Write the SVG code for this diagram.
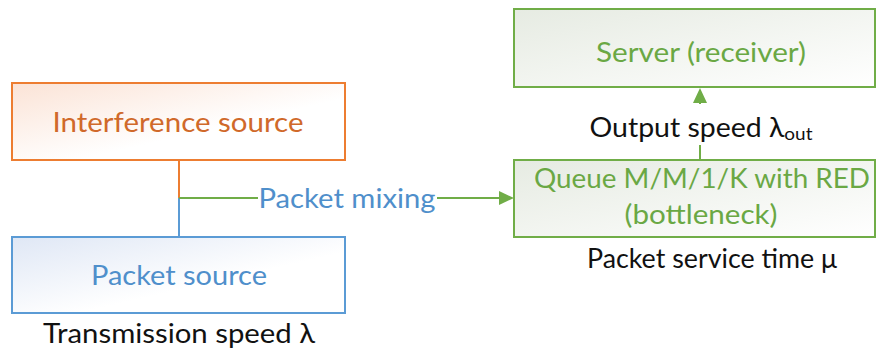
<svg xmlns="http://www.w3.org/2000/svg" width="876" height="349" viewBox="0 0 876 349">
<defs>
<linearGradient id="gO" x1="0" y1="0" x2="1" y2="1"><stop offset="0" stop-color="#fbe3d6"/><stop offset="0.6" stop-color="#ffffff"/></linearGradient>
<linearGradient id="gB" x1="0" y1="0" x2="1" y2="1"><stop offset="0" stop-color="#dfe7f5"/><stop offset="0.6" stop-color="#ffffff"/></linearGradient>
<linearGradient id="gG" x1="0" y1="0" x2="1" y2="1"><stop offset="0" stop-color="#e6ebe2"/><stop offset="1" stop-color="#ffffff"/></linearGradient>
<style>
text{font-family:Lato,"Open Sans",sans-serif;font-size:27px;text-anchor:middle}
.o{fill:#d0692a}.b{fill:#4f8fcb}.g{fill:#6aa844}.k{fill:#111}
.box{stroke-width:2}
.ah{fill:#70ad47}
</style>
</defs>
<g id="connectors" fill="none" stroke-width="2">
<line x1="179" y1="160" x2="179" y2="198" stroke="#ed7d31"/>
<line x1="179" y1="198" x2="179" y2="237" stroke="#5b9bd5"/>
<line x1="179" y1="198" x2="258" y2="198" stroke="#70ad47"/>
<line x1="437" y1="198" x2="500" y2="198" stroke="#70ad47"/>
<path class="ah" d="M499,191 L514,198 L499,205 z"/>
<line x1="700" y1="160" x2="700" y2="145" stroke="#70ad47"/>
<line x1="700" y1="104" x2="700" y2="96" stroke="#70ad47"/>
<path class="ah" d="M693,103 L700,88 L707,103 z"/>
<text class="b" x="347" y="208" textLength="177" lengthAdjust="spacingAndGlyphs">Packet mixing</text>
<text class="k" x="701" y="137" textLength="223" lengthAdjust="spacingAndGlyphs">Output speed λ<tspan font-size="18" dy="3">out</tspan></text>
</g>
<g id="interference">
<rect class="box" x="12" y="83" width="333" height="77" fill="url(#gO)" stroke="#ed7d31"/>
<text class="o" x="178" y="132" textLength="251" lengthAdjust="spacingAndGlyphs">Interference source</text>
</g>
<g id="packet-source">
<rect class="box" x="12" y="237" width="333" height="76" fill="url(#gB)" stroke="#5b9bd5"/>
<text class="b" x="179" y="285" textLength="176" lengthAdjust="spacingAndGlyphs">Packet source</text>
<text class="k" x="179" y="343" textLength="272" lengthAdjust="spacingAndGlyphs">Transmission speed λ</text>
</g>
<g id="server">
<rect class="box" x="514" y="9" width="361" height="78" fill="url(#gG)" stroke="#70ad47"/>
<text class="g" x="701" y="62" textLength="210" lengthAdjust="spacingAndGlyphs">Server (receiver)</text>
</g>
<g id="queue">
<rect class="box" x="514" y="160" width="361" height="77" fill="url(#gG)" stroke="#70ad47"/>
<text class="g" x="702" y="188" textLength="336" lengthAdjust="spacingAndGlyphs">Queue M/M/1/K with RED</text>
<text class="g" x="701" y="224" textLength="153" lengthAdjust="spacingAndGlyphs">(bottleneck)</text>
<text class="k" x="712" y="268" textLength="250" lengthAdjust="spacingAndGlyphs">Packet service time μ</text>
</g>
</svg>
